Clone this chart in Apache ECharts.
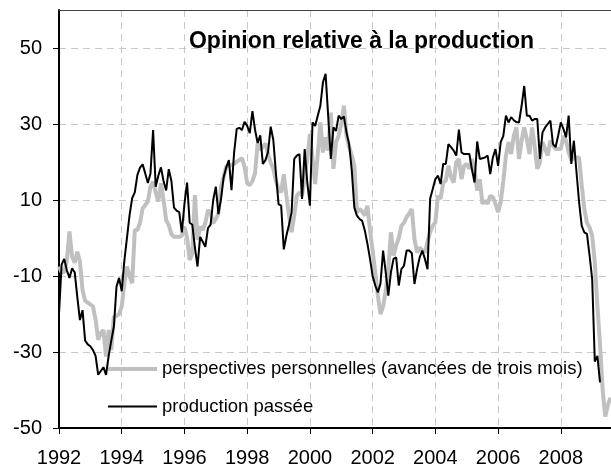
<!DOCTYPE html>
<html>
<head>
<meta charset="utf-8">
<script src="https://cdn.jsdelivr.net/npm/echarts@6/dist/echarts.min.js"></script>
<style>
html,body{margin:0;padding:0;background:#fff;}
#chart{width:611px;height:468px;}
</style>
</head>
<body>
<div id="chart"></div>
<script>
// Monthly data starting January 1992
const startYear = 1992;
const titleText = 'Opinion relative à la production';
const seriesNames = ['perspectives personnelles (avancées de trois mois)', 'production passée'];
const yearTicks = [1992, 1994, 1996, 1998, 2000, 2002, 2004, 2006, 2008];
const valueTicks = [-50, -30, -10, 10, 30, 50];

// perspectives personnelles (avancées de trois mois) — grey
const perspectives = [
 -7.5, -9, -9, -6, 1.7, -5, -6.5, -3.6, -6.2, -13.7, -16.5, -17,
 -17.5, -18, -21.6, -26.8, -25, -24.2, -31.2, -24.2, -29.5, -20.7, -20.5, -20,
 -18, -12, -7.5, -10, -11.9, 2.1, 2.1, 4, 7.8, 8.7, 9.6, 13.5,
 14.8, 12, 9.6, 14.4, 10, 4.7, 3.4, 1, 0.3, 0.3, 0.3, 0.6,
 3, 0, -5.8, -4, 11.3, -0.5, 3, 2.1, 4, 7.4, 6.5, 3.9,
 5, 6.5, 13.5, 16.1, 18.8, 19, 19.2, 19.5, 20.1, 20.5, 21, 18.8,
 14.4, 13.9, 15, 17, 24.9, 23.2, 24, 24.9, 22, 19.9, 18.2, 15,
 12.9, 12, 16.8, 11.1, 5.9, 1.5, 5.9, 11.1, 12, 11.1, 16, 20.8,
 27.4, 20.8, 14.2, 22, 30.4, 22.5, 26.5, 23, 33, 18.2, 25.2, 26.9,
 30, 34.8, 26.9, 24, 21.7, 19, 6.8, 7.6, 7, 5.9, 8.5, 2,
 -3.3, -9, -15.2, -20, -18, -14, -8, 1.5, -4.6, -2, 0, 3.2,
 4, 5.5, 6.5, 7.6, -0.3, -3.8, -2.5, -3.3, -3.8, -1, 1.5, 3.2,
 4.1, 11.1, 10.3, 14.6, 15.1, 19, 16, 14.6, 19.9, 20.8, 15.5, 19,
 19.5, 18.2, 20.8, 17.7, 12.5, 15.5, 9, 9.8, 9, 11.1, 10.7, 9,
 6.8, 9.4, 15, 21.7, 25.2, 22.1, 26.9, 29.1, 20.8, 25.6, 29.1, 26,
 22.1, 29.1, 24.3, 18.2, 19.9, 25.2, 23.4, 21.7, 25.6, 24.3, 23.4, 23.4,
 23.4, 26.9, 25.6, 22.5, 20.4, 21.2, 21.2, 21.2, 13.8, 7.6, 4, 2.8,
 0.6, -6.4, -18, -28, -40, -47, -44, -42
];

// production passée — black
const production = [
 -20, -7, -5.5, -8.5, -10.5, -8, -9, -15.5, -21.6, -19, -27, -28,
 -28.5, -29.5, -31, -36, -35, -34, -36, -31, -27, -23.3, -12.8, -10.5,
 -14, -6, 0, 6, 10.5, 12, 16.6, 18.5, 19.4, 17, 14.5, 17,
 28.4, 13.5, 16.4, 18.6, 15, 12.5, 18.1, 15, 8, 7.2, 6.8, 1.5,
 9, 14.6, 4, 3.5, -2.5, -7.5, 0.3, -1, -2.3, 2.6, 3.5, 10,
 13.5, 6.3, 10.3, 16, 18.6, 20.5, 12.6, 22.5, 28.7, 29, 28.4, 30.6,
 29.5, 27.6, 33.4, 28.5, 25, 27, 19.5, 20.5, 22.7, 29.3, 25.8, 17,
 8.9, 8.5, -3, 0.6, 3.5, 6.8, 20.8, 21.7, 22.1, 10.3, 23.4, 14.6,
 8.5, 30.4, 29.5, 32.2, 34.8, 41, 43.2, 32, 20.8, 29.1, 28.2, 32.2,
 31.3, 32, 27.8, 24.7, 18, 8, 5.9, 5, 4.5, 2, -1.5, -5.5,
 -10, -12.5, -14.3, -12, -3.3, -9, -15.2, -9, -5.5, -5.1, -12.5, -8.2,
 -7.3, -3.3, -3.3, -4, -12.1, -8.2, -5.1, -3.3, -5.5, -8.2, 10.3, 12.9,
 15.5, 16.4, 14.2, 19.5, 19.5, 24.7, 23.9, 23, 21.7, 28.5, 22.5, 22.1,
 22.1, 22.1, 18, 14.6, 25.4, 20.8, 21, 21.2, 21.7, 16.8, 21.2, 23.4,
 19, 25.2, 26.9, 32.2, 30.4, 31.8, 31, 30.5, 30.4, 34.8, 40, 32.2,
 32.2, 30.9, 31.3, 31.3, 20.8, 27.8, 29.1, 30, 30.9, 24.7, 23.9, 27,
 30.4, 28.7, 26.5, 32.2, 19.5, 25.6, 17.3, 9.4, 3.2, 1.5, 1.1, -4.6,
 -10.8, -32.5, -31, -38
];

const toPoints = arr => arr.map((v, i) => [startYear + i / 12, v]);

const FONT = '"Liberation Sans", Arial, sans-serif';
const chart = echarts.init(document.getElementById('chart'), null, {renderer: 'canvas'});

// legend icons: thick grey bar / thin black bar, padded to the full icon box
const greyIcon = 'path://M0,0 M49,14 M0,5 L49,5 L49,9 L0,9 Z';
const blackIcon = 'path://M0,0 M49,14 M0,6 L49,6 L49,8 L0,8 Z';

chart.setOption({
  animation: false,
  backgroundColor: '#ffffff',
  grid: {left: 59, right: 0, top: 10, bottom: 40, containLabel: false, outerBoundsMode: 'none'},
  graphic: [{
    type: 'text',
    x: 361.5,
    y: 41.5,
    style: {
      text: titleText,
      font: 'bold 23px ' + FONT,
      fill: '#000',
      align: 'center',
      verticalAlign: 'middle'
    },
    z: 100
  }],
  legend: {
    orient: 'vertical',
    left: 108,
    top: 359.5,
    padding: 0,
    itemWidth: 49,
    itemHeight: 14,
    itemGap: 18.5,
    textStyle: {fontFamily: FONT, fontSize: 18.5, color: '#000'},
    data: [
      {name: seriesNames[0], icon: greyIcon, itemStyle: {color: '#c0c0c0'}},
      {name: seriesNames[1], icon: blackIcon, itemStyle: {color: '#000'}}
    ]
  },
  xAxis: [{
    type: 'value',
    min: 1992,
    max: 2009.6,
    interval: 2,
    axisLine: {show: true, onZero: false, lineStyle: {color: '#000', width: 2}},
    axisTick: {show: true, length: 6, lineStyle: {color: '#000', width: 1}},
    axisLabel: {
      show: true, margin: 20, color: '#000', fontFamily: FONT, fontSize: 20,
      showMaxLabel: false, alignMinLabel: 'center', alignMaxLabel: 'center',
      formatter: v => (yearTicks.indexOf(v) >= 0 ? String(v) : '')
    },
    splitLine: {show: true, showMaxLine: false, lineStyle: {color: '#c8c8c8', width: 1, type: [7, 5]}}
  }, {
    type: 'value',
    position: 'top',
    min: 1992,
    max: 2009.6,
    interval: 2,
    axisLine: {show: true, onZero: false, lineStyle: {color: '#444', width: 1}},
    axisTick: {show: false},
    axisLabel: {show: false},
    splitLine: {show: false}
  }],
  yAxis: {
    type: 'value',
    min: -50,
    max: 60,
    interval: 20,
    axisLine: {show: true, onZero: false, lineStyle: {color: '#000', width: 2}},
    axisTick: {show: true, length: 6, lineStyle: {color: '#000', width: 1}},
    axisLabel: {
      show: true, margin: 17, color: '#000', fontFamily: FONT, fontSize: 20,
      showMaxLabel: false,
      formatter: v => (valueTicks.indexOf(v) >= 0 ? String(v) : '')
    },
    splitLine: {show: true, showMaxLine: false, lineStyle: {color: '#c8c8c8', width: 1, type: [7, 5]}}
  },
  series: [{
    name: seriesNames[0],
    type: 'line',
    data: toPoints(perspectives),
    showSymbol: false,
    symbol: 'none',
    lineStyle: {color: '#c0c0c0', width: 4},
    itemStyle: {color: '#c0c0c0'},
    z: 2
  }, {
    name: seriesNames[1],
    type: 'line',
    data: toPoints(production),
    showSymbol: false,
    symbol: 'none',
    lineStyle: {color: '#000', width: 2},
    itemStyle: {color: '#000'},
    z: 3
  }]
});
</script>
</body>
</html>
